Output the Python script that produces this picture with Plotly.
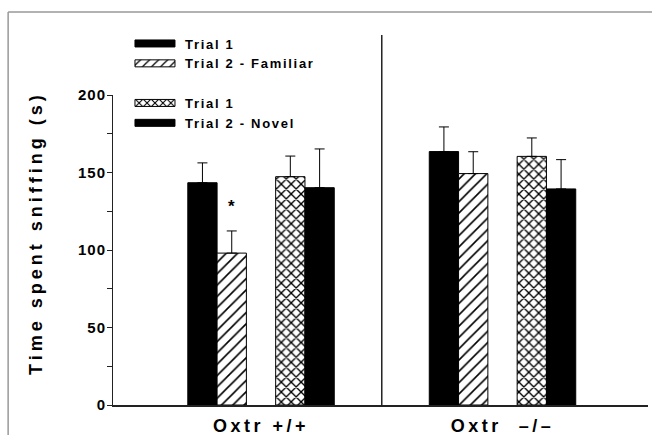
import plotly.graph_objects as go

# ---- data ----
GENOTYPES = ["Oxtr +/+", "Oxtr\u00a0\u00a0\u2013/\u2013"]
SERIES = ["Trial 1", "Trial 2 - Familiar", "Trial 1", "Trial 2 - Novel"]
T1_FAM = [143.4, 163.5]
T2_FAM = [98.0, 149.3]
T1_NOV = [147.3, 160.4]
T2_NOV = [140.2, 139.4]
T1_FAM_ERR = [12.8, 15.9]
T2_FAM_ERR = [14.3, 14.1]
T1_NOV_ERR = [13.3, 11.9]
T2_NOV_ERR = [25.0, 18.9]
SIG_MARK = ["*", ""]  # significance above Trial 2 - Familiar

FONT = "Liberation Sans, Arial, sans-serif"
BAR_W = 0.1213
OFFSETS = [-2, -1, 1, 2]

values = [T1_FAM, T2_FAM, T1_NOV, T2_NOV]
errors = [T1_FAM_ERR, T2_FAM_ERR, T1_NOV_ERR, T2_NOV_ERR]
styles = [
    dict(color="black"),
    dict(color="white", pattern=dict(shape="/", fgcolor="black", bgcolor="white", size=8, solidity=0.2)),
    dict(color="white", pattern=dict(shape="x", fgcolor="black", bgcolor="white", size=7, solidity=0.35)),
    dict(color="black"),
]
legends = ["legend", "legend", "legend2", "legend2"]

fig = go.Figure()
gx = list(range(len(GENOTYPES)))
for i in range(4):
    xs = [g + OFFSETS[i] * BAR_W for g in gx]
    fig.add_trace(go.Bar(
        x=xs, y=values[i], width=BAR_W, name=SERIES[i], legend=legends[i],
        marker=dict(**styles[i], line=dict(color="black", width=1)),
        error_y=dict(type="data", array=errors[i], arrayminus=[0] * len(gx),
                     symmetric=False, color="black", thickness=1, width=5),
    ))

# significance asterisk
for g in gx:
    if SIG_MARK[g]:
        fig.add_annotation(x=g + OFFSETS[1] * BAR_W, y=T2_FAM[g] + T2_FAM_ERR[g] + 16,
                           text=SIG_MARK[g], showarrow=False, xanchor="center", yanchor="middle",
                           font=dict(family=FONT, size=17, color="black", weight="bold"))

# y title
fig.add_annotation(xref="paper", yref="paper", x=-0.144, y=0.555, textangle=-90,
                   xanchor="center", yanchor="middle",
                   text="Time spent sniffing (s)", showarrow=False,
                   font=dict(family=FONT, size=18, color="black", weight="bold"))

# separator between genotypes
mid = (gx[0] + gx[1]) / 2
fig.add_shape(type="line", xref="x", yref="paper", x0=mid, x1=mid, y0=0, y1=1.1935,
              line=dict(color="#222", width=1.5))
# outer frame (left/top edges)
fig.add_shape(type="line", xref="paper", yref="paper", x0=-0.196, x1=1.2, y0=1.2677, y1=1.2677,
              line=dict(color="#999", width=1.5))
fig.add_shape(type="line", xref="paper", yref="paper", x0=-0.196, x1=-0.196, y0=-0.2, y1=1.2677,
              line=dict(color="#999", width=1.5))

LEG_FONT = dict(family=FONT, size=13, color="black", weight="bold")
fig.update_layout(
    template="none",
    width=652, height=435,
    margin=dict(l=113, r=4, t=95, b=30),
    paper_bgcolor="white", plot_bgcolor="white",
    barmode="overlay",
    font=dict(family=FONT, size=13, color="black", weight="bold"),
    xaxis=dict(range=[-0.613, 1.6025], tickvals=gx, ticktext=GENOTYPES, showline=True,
               linecolor="#222", linewidth=1.5, ticks="", showgrid=False, zeroline=False,
               automargin=False, ticklabelstandoff=4,
               tickfont=dict(family=FONT, size=18, color="black", weight="bold")),
    yaxis=dict(range=[0, 200], dtick=50, showline=True, linecolor="#222", linewidth=1,
               ticks="outside", ticklen=5, tickcolor="#222", showgrid=False, zeroline=False,
               automargin=False, ticklabelstandoff=-2,
               minor=dict(dtick=25, ticks="outside", ticklen=5, tickcolor="#222"),
               tickfont=dict(family=FONT, size=15, color="black", weight="bold")),
    legend=dict(x=0.0224, y=1.2145, xanchor="left", yanchor="top", itemwidth=50,
                bgcolor="rgba(0,0,0,0)", tracegroupgap=0, font=LEG_FONT),
    legend2=dict(x=0.0224, y=1.0226, xanchor="left", yanchor="top", itemwidth=50,
                 bgcolor="rgba(0,0,0,0)", tracegroupgap=0, font=LEG_FONT),
)

post = """
document.body.style.margin = '0';
var css = document.createElement('style');
css.textContent =
  '.js-plotly-plot .xtick text{letter-spacing:3.5px !important;}' +
  '.js-plotly-plot .ytick text{letter-spacing:1px !important;}' +
  '.js-plotly-plot text.legendtext{letter-spacing:1.7px !important;}' +
  '.js-plotly-plot .infolayer text{letter-spacing:1.7px;}';
document.head.appendChild(css);
var gd = document.getElementById('{plot_id}');
function fix(){
  gd.querySelectorAll('g.legendpoints path').forEach(function(p){
    p.setAttribute('d','M20,3.5H-20V-3.5H20Z');
  });
  gd.querySelectorAll('.infolayer [clip-path]').forEach(function(e){ e.removeAttribute('clip-path'); });
  gd.querySelectorAll('text.annotation-text').forEach(function(t){
    t.style.letterSpacing = (t.textContent.length > 3) ? '4px' : '0px';
  });
}
fix();
setTimeout(fix, 50);
setTimeout(fix, 300);
"""
fig.write_html("out.html", post_script=post, config={"displayModeBar": False, "staticPlot": True})
